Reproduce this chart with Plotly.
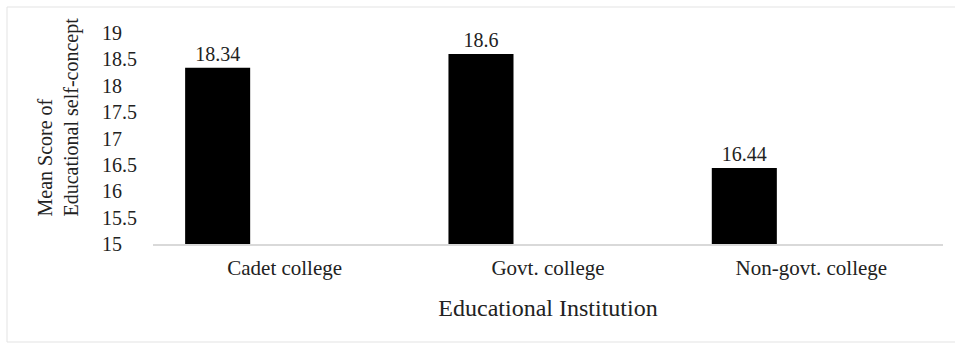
import plotly.graph_objects as go

categories = ["Cadet college", "Govt. college", "Non-govt. college"]
mean_scores = [18.34, 18.6, 16.44]
score_labels = ["18.34", "18.6", "16.44"]
y_tickvals = [15, 15.5, 16, 16.5, 17, 17.5, 18, 18.5, 19]
y_ticktext = ["15\u00a0\u00a0\u00a0", "15.5", "16\u00a0\u00a0\u00a0", "16.5", "17\u00a0\u00a0\u00a0",
              "17.5", "18\u00a0\u00a0\u00a0", "18.5", "19\u00a0\u00a0\u00a0"]

W, H = 955, 345
L, R, T, B = 153, 12, 33, 101
pw, ph = W - L - R, H - T - B

def px_x(p):
    return (p - L) / pw

def px_y(p):
    return (H - B - p) / ph

serif = "Liberation Serif, Times New Roman, serif"

fig = go.Figure()
fig.add_trace(go.Bar(
    x=categories, y=mean_scores,
    marker=dict(color="#000000", line=dict(color="#000000", width=0)),
    width=0.247, offset=-0.378,
    text=score_labels, textposition="outside", cliponaxis=False,
    textfont=dict(family=serif, size=20, color="#222222"),
    showlegend=False,
))

fig.update_layout(
    width=W, height=H,
    margin=dict(l=L, r=R, t=T, b=B),
    paper_bgcolor="white", plot_bgcolor="white",
    font=dict(family=serif, color="#222222"),
    xaxis=dict(
        showline=True, linecolor="#d9d9d9", linewidth=1.5,
        showgrid=False, ticks="", zeroline=False,
        tickfont=dict(family=serif, size=21, color="#222222"),
        ticklabelstandoff=4,
        title=dict(text="Educational Institution", font=dict(family=serif, size=24, color="#222222"), standoff=20),
    ),
    yaxis=dict(
        range=[15, 19], tickvals=y_tickvals, ticktext=y_ticktext,
        showline=False, showgrid=False, zeroline=False, ticks="",
        tickfont=dict(family=serif, size=20, color="#222222"),
        ticklabelstandoff=15,
    ),
    annotations=[dict(
        text="Mean Score of<br>Educational self-concept",
        xref="paper", yref="paper", x=px_x(58), y=px_y(219),
        xanchor="center", yanchor="bottom", textangle=-90, align="left",
        showarrow=False, font=dict(family=serif, size=20, color="#222222"),
    )],
    shapes=[dict(
        type="rect", xref="paper", yref="paper",
        x0=px_x(7), x1=px_x(958), y0=px_y(342), y1=px_y(7),
        line=dict(color="#e3e3e3", width=1), fillcolor="rgba(0,0,0,0)", layer="below",
    )],
)

fig.write_html("out.html")
